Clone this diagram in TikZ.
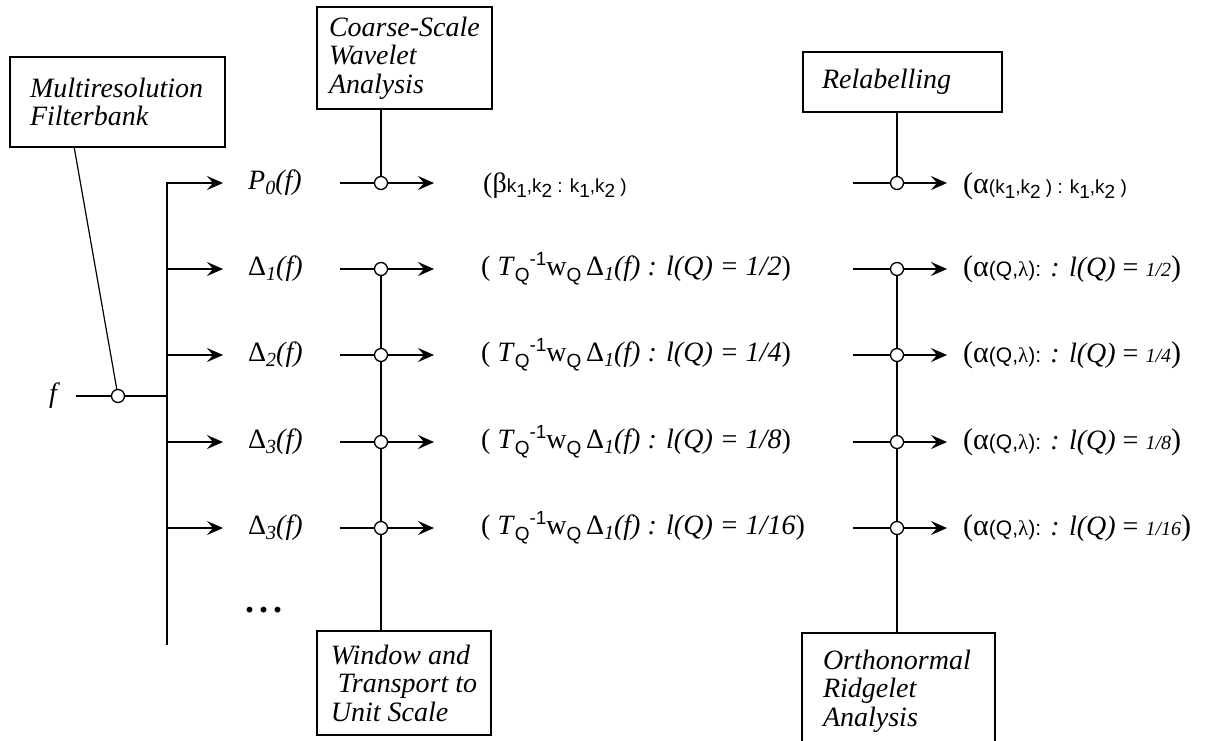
\documentclass[tikz,border=0pt]{standalone}
\usepackage{fontspec}
\setmainfont{Liberation Serif}
\setsansfont{Liberation Sans}
\usetikzlibrary{positioning, calc, arrows.meta}

\newcommand{\lowsf}[1]{\raisebox{-6pt}{\fontsize{19}{19}\sffamily #1}}
\newcommand{\highsf}[1]{\raisebox{10pt}{\fontsize{19}{19}\sffamily #1}}
\newcommand{\lowit}[1]{\raisebox{-5pt}{\fontsize{20}{20}\itshape #1}}
\newcommand{\lowdigit}[1]{\raisebox{-5pt}{#1}}
\newcommand{\Twterm}[1]{( \textit{T}\lowsf{Q}\highsf{-1}w\lowsf{Q}\,Δ\lowit{1}\textit{(f) : l(Q) = #1})}
\newcommand{\Alterm}[1]{{\fontsize{30}{30}\selectfont(α}{\fontsize{21}{21}\selectfont\sffamily(Q,\rmfamily λ\sffamily):}\textit{ : l(Q) }= {\fontsize{20}{20}\itshape #1}{\fontsize{30}{30}\selectfont)}}

\tikzset{
TapStyle/.style  ={circle, draw, fill=white, line width=1.3pt,
                   inner sep=0pt, minimum size=13pt},
BoxStyle/.style  ={draw, line width=1.3pt, align=left, inner ysep=0pt,
                   font=\fontsize{28}{28.5}\selectfont\itshape},
MyEdgeStyle/.style ={line width=1.6pt},
MyArrowStyle/.style={line width=1.6pt, -{Stealth[length=16pt,width=14pt,inset=6pt]}},
LabelStyle/.style={anchor=west, inner sep=0pt, font=\fontsize{28}{28}\selectfont},
}

\begin{document}
\begin{tikzpicture}[x=1pt, y=-1pt]
\useasboundingbox (0,0) rectangle (1209,740);

% boxes
\node[BoxStyle, inner xsep=20pt, text width=175pt, minimum height=90pt]  (fbox) at (117.5,102) {Multiresolution\\Filterbank};
\node[BoxStyle, inner xsep=12pt, text width=151pt, minimum height=102pt] (cbox) at (404.5,58)  {Coarse-Scale\\Wavelet\\Analysis};
\node[BoxStyle, inner xsep=0pt, minimum width=174pt, minimum height=104pt] (wbox) at (404,683) {Window and\\\ Transport to\\Unit Scale};
\node[BoxStyle, inner xsep=19pt, text width=161pt, minimum height=60pt]  (rbox) at (902.5,82)  {Relabelling};
\node[BoxStyle, inner xsep=21pt, text width=151pt, minimum height=116pt] (obox) at (898.5,691) {Orthonormal\\Ridgelet\\Analysis\\[4pt]};

% input f
\node[LabelStyle, anchor=center] (f) at (53,396) {\itshape f};
\coordinate (fin) at (76,396);
\node[TapStyle] (ftap) at (118,396) {};
\coordinate (tf) at (167,396);
\coordinate (tend) at (167,645);

% rows
\foreach \i/\y in {0/183, 1/269, 2/355, 3/442, 4/528} {
  \coordinate (t\i) at (167,\y);
  \coordinate (a\i) at (223,\y);
  \coordinate (m\i) at (340,\y);
  \node[TapStyle] (c\i) at (381,\y) {};
  \coordinate (e\i) at (434,\y);
  \coordinate (n\i) at (853,\y);
  \node[TapStyle] (d\i) at (897,\y) {};
  \coordinate (g\i) at (947,\y);
}

% labels
\node[LabelStyle] (p0) at (248,183) {\textit{P}\lowit{0}\textit{(f)}};
\node[LabelStyle] (p1) at (248,269) {Δ\lowit{1}\textit{(f)}};
\node[LabelStyle] (p2) at (248,355) {Δ\lowit{2}\textit{(f)}};
\node[LabelStyle] (p3) at (248,442) {Δ\lowit{3}\textit{(f)}};
\node[LabelStyle] (p4) at (248,528) {Δ\lowit{3}\textit{(f)}};
\node[LabelStyle, font=\fontsize{36}{36}\selectfont\bfseries] (dots) at (245,610) {.\kern5pt.\kern5pt.};

\node[LabelStyle] (q0) at (483,186) {(β{\fontsize{19}{19}\selectfont\sffamily k\lowdigit{1},k\lowdigit{2} : k\lowdigit{1},k\lowdigit{2} )}};
\node[LabelStyle] (q1) at (481,269) {\Twterm{1/2}};
\node[LabelStyle] (q2) at (481,355) {\Twterm{1/4}};
\node[LabelStyle] (q3) at (481,442) {\Twterm{1/8}};
\node[LabelStyle] (q4) at (481,528) {\Twterm{1/16}};

\node[LabelStyle] (s0) at (963,186) {{\fontsize{30}{30}\selectfont(α}{\fontsize{19}{19}\selectfont\sffamily (k\lowdigit{1},k\lowdigit{2} ) : k\lowdigit{1},k\lowdigit{2} )}};
\node[LabelStyle] (s1) at (963,269) {\Alterm{1/2}};
\node[LabelStyle] (s2) at (963,355) {\Alterm{1/4}};
\node[LabelStyle] (s3) at (963,442) {\Alterm{1/8}};
\node[LabelStyle] (s4) at (963,528) {\Alterm{1/16}};

% filterbank
\draw[MyEdgeStyle] (fin) -- (ftap) -- (tf);
\draw[line width=1.2pt] ($(fbox.south west)!0.3!(fbox.south east)$) -- (ftap);
\draw[MyArrowStyle] (tend) -- (t0) -- (a0);
\foreach \i in {1,...,4} \draw[MyArrowStyle] (t\i) -- (a\i);

% window and wavelet taps
\foreach \i in {0,...,4} {
  \draw[MyEdgeStyle] (m\i) -- (c\i);
  \draw[MyArrowStyle] (c\i) -- (e\i);
  \draw[MyEdgeStyle] (n\i) -- (d\i);
  \draw[MyArrowStyle] (d\i) -- (g\i);
}
\draw[MyEdgeStyle] (cbox.south -| c0) -- (c0);
\draw[MyEdgeStyle] (c1) -- (c2) -- (c3) -- (c4) -- (wbox.north -| c1);
\draw[MyEdgeStyle] (rbox.south -| d0) -- (d0);
\draw[MyEdgeStyle] (d1) -- (d2) -- (d3) -- (d4) -- (obox.north -| d1);
\end{tikzpicture}
\end{document}
